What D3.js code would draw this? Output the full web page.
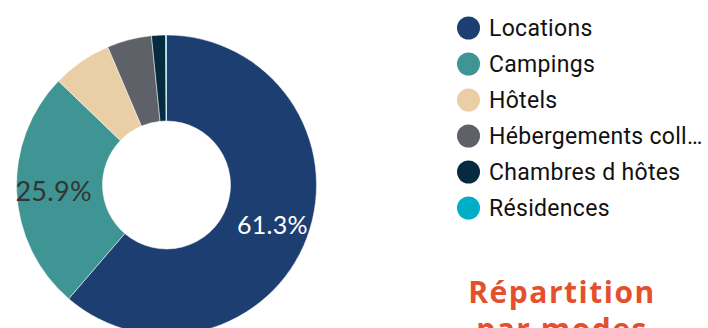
<!DOCTYPE html>
<html>
<head>
<meta charset="utf-8">
<script src="https://cdn.jsdelivr.net/npm/d3@7"></script>
<style>
  html, body { margin: 0; padding: 0; background: #fff; overflow: hidden; }
  svg { display: block; }
</style>
</head>
<body>
<svg id="chart" width="708" height="328"></svg>
<script>
// Accommodation types and their share (%)
const categories = ["Locations", "Campings", "Hôtels", "Hébergements collectifs", "Chambres d hôtes", "Résidences"];
const shares = [61.3, 25.9, 6.4, 4.8, 1.5, 0.1];
const colors = ["#1d3e70", "#3f9593", "#e9cea6", "#5e6268", "#062b41", "#00afc6"];
const titleLines = ["Répartition", "par modes"];

const svg = d3.select("#chart");
const cx = 166.5, cy = 185, outerR = 150, innerR = 64;

const data = categories.map((c, i) => ({ name: c, value: shares[i], color: colors[i] }));

const pie = d3.pie().value(d => d.value).sort(null);
const arc = d3.arc().innerRadius(innerR).outerRadius(outerR);
const labelArc = d3.arc().innerRadius(113).outerRadius(113);

const g = svg.append("g").attr("transform", `translate(${cx},${cy})`);
const arcs = pie(data);

g.selectAll("path.slice")
  .data(arcs)
  .join("path")
  .attr("class", "slice")
  .attr("d", arc)
  .attr("fill", d => d.data.color)
  .attr("stroke", "#ffffff")
  .attr("stroke-width", 0.5);

// Percent labels on the larger slices
const fmt = v => v.toFixed(1) + "%";
g.selectAll("text.pct")
  .data(arcs.filter(d => d.data.value >= 10))
  .join("text")
  .attr("class", "pct")
  .attr("transform", d => `translate(${labelArc.centroid(d)})`)
  .attr("text-anchor", "middle")
  .attr("dominant-baseline", "central")
  .attr("font-family", "Lato, 'Open Sans', sans-serif")
  .attr("font-weight", 400)
  .attr("font-size", (d, i) => i === 0 ? 25 : 27)
  .attr("letter-spacing", 0.3)
  .attr("fill", (d, i) => i === 0 ? "#ffffff" : "#333333")
  .text(d => fmt(d.data.value));

// Legend
const legend = svg.append("g").attr("transform", "translate(468.5,28)");
const rowH = 36, maxTextW = 708 - 489 - 3;
const rows = legend.selectAll("g.row")
  .data(data)
  .join("g")
  .attr("class", "row")
  .attr("transform", (d, i) => `translate(0,${i * rowH})`);

rows.append("circle")
  .attr("r", 11.5)
  .attr("fill", d => d.color);

rows.append("text")
  .attr("x", 20.5)
  .attr("y", 0)
  .attr("dominant-baseline", "central")
  .attr("font-family", "Roboto, sans-serif")
  .attr("font-size", 23)
  .attr("letter-spacing", 0.3)
  .attr("fill", "#111")
  .text(d => d.name)
  .each(function(d) {
    const t = d3.select(this);
    let s = d.name;
    if (this.getComputedTextLength() > maxTextW) {
      while (s.length > 1) {
        s = s.slice(0, -1);
        t.text(s.trimEnd() + "…");
        if (this.getComputedTextLength() <= maxTextW) break;
      }
    }
  });

// Title
svg.append("g")
  .selectAll("text")
  .data(titleLines)
  .join("text")
  .attr("x", 562)
  .attr("y", (d, i) => 303 + i * 37)
  .attr("text-anchor", "middle")
  .attr("font-family", "'Open Sans', Lato, sans-serif")
  .attr("font-weight", 700)
  .attr("font-size", 30)
  .attr("letter-spacing", 1.5)
  .attr("fill", "#e4502e")
  .text(d => d);
</script>
</body>
</html>
